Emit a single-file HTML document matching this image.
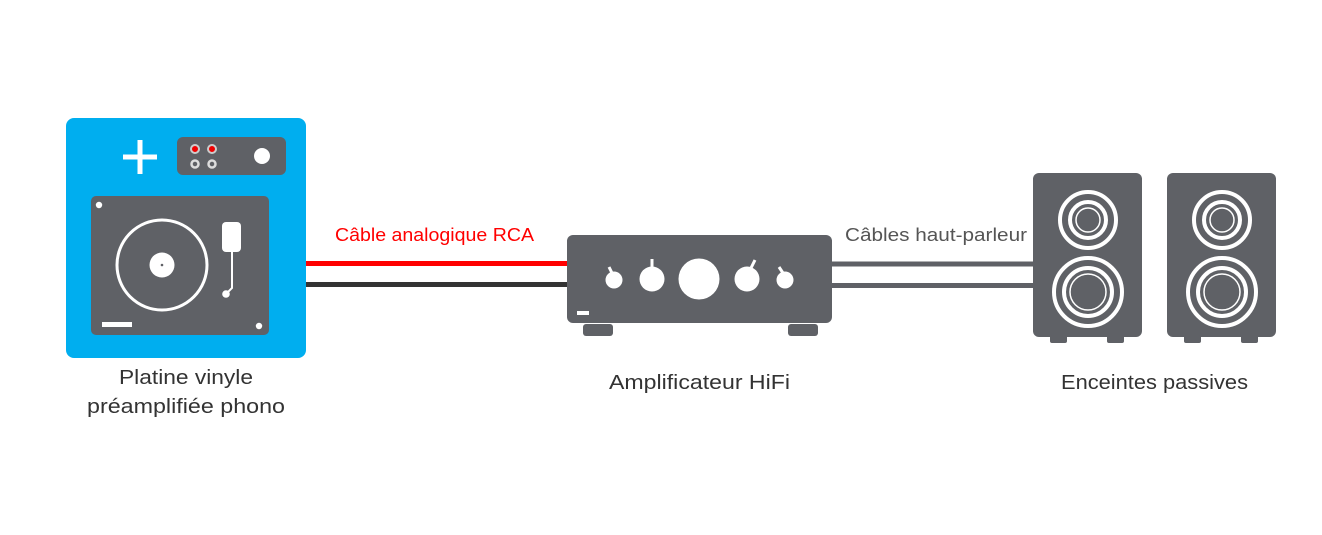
<!DOCTYPE html>
<html><head><meta charset="utf-8"><style>
html,body{margin:0;padding:0;background:#fff;}
svg{display:block;}
text{font-family:"Liberation Sans",sans-serif;}
</style></head><body>
<svg width="1322" height="535" viewBox="0 0 1322 535" xmlns="http://www.w3.org/2000/svg">
<rect width="1322" height="535" fill="#fff"/>
<!-- turntable -->
<rect x="66" y="118" width="240" height="240" rx="8" fill="#00aeef"/>
<rect x="123" y="154.5" width="34" height="5" fill="#fff"/>
<rect x="137.5" y="140" width="5" height="34" fill="#fff"/>
<rect x="177" y="137" width="109" height="38" rx="6" fill="#5f6166"/>
<circle cx="195" cy="149" r="4" fill="#e00" stroke="#ccc" stroke-width="2"/>
<circle cx="212" cy="149" r="4" fill="#e00" stroke="#ccc" stroke-width="2"/>
<circle cx="195" cy="164" r="3.5" fill="#5f6166" stroke="#ddd" stroke-width="2.5"/>
<circle cx="212" cy="164" r="3.5" fill="#5f6166" stroke="#ddd" stroke-width="2.5"/>
<circle cx="262" cy="156" r="8" fill="#fff"/>
<rect x="91" y="196" width="178" height="139" rx="5" fill="#5f6166"/>
<circle cx="99" cy="205" r="3.2" fill="#fff"/>
<circle cx="259" cy="326" r="3.2" fill="#fff"/>
<circle cx="162" cy="265" r="45" fill="none" stroke="#fff" stroke-width="3"/>
<circle cx="162" cy="265" r="12.5" fill="#fff"/>
<circle cx="162" cy="265" r="1.3" fill="#5f6166"/>
<rect x="222" y="222" width="19" height="30" rx="4" fill="#fff"/>
<path d="M232 252 V288 L226 294" fill="none" stroke="#fff" stroke-width="2"/>
<circle cx="226" cy="294" r="3.8" fill="#fff"/>
<rect x="102" y="322" width="30" height="5" fill="#fff"/>
<!-- cables -->
<rect x="306" y="261" width="261" height="5" fill="#f00"/>
<rect x="306" y="282" width="261" height="5" fill="#333"/>
<rect x="832" y="261.5" width="201" height="5" fill="#5f6166"/>
<rect x="832" y="283" width="201" height="5" fill="#5f6166"/>
<text x="335" y="241" font-size="18" fill="#f00" textLength="199" lengthAdjust="spacingAndGlyphs">Câble analogique RCA</text>
<text x="845" y="241" font-size="18" fill="#555" textLength="182" lengthAdjust="spacingAndGlyphs">Câbles haut-parleur</text>
<!-- amp -->
<rect x="567" y="235" width="265" height="88" rx="6" fill="#5f6166"/>
<rect x="583" y="324" width="30" height="12" rx="3" fill="#5f6166"/>
<rect x="788" y="324" width="30" height="12" rx="3" fill="#5f6166"/>
<rect x="577" y="311" width="12" height="4" fill="#fff"/>
<circle cx="614" cy="280" r="8.5" fill="#fff"/>
<line x1="609" y1="267" x2="612" y2="273" stroke="#fff" stroke-width="3"/>
<circle cx="652" cy="279" r="12.5" fill="#fff"/>
<line x1="652" y1="259" x2="652" y2="268" stroke="#fff" stroke-width="3"/>
<circle cx="699" cy="279" r="20.5" fill="#fff"/>
<circle cx="747" cy="279" r="12.5" fill="#fff"/>
<line x1="755" y1="260" x2="751" y2="268" stroke="#fff" stroke-width="3"/>
<circle cx="785" cy="280" r="8.5" fill="#fff"/>
<line x1="779" y1="267" x2="783" y2="273" stroke="#fff" stroke-width="3"/>
<!-- speakers -->
<g id="spk">
<rect x="1033" y="173" width="109" height="164" rx="6" fill="#5f6166"/>
<rect x="1050" y="335" width="17" height="8" rx="2" fill="#5f6166"/>
<rect x="1107" y="335" width="17" height="8" rx="2" fill="#5f6166"/>
<circle cx="1088" cy="220" r="28" fill="none" stroke="#fff" stroke-width="4"/>
<circle cx="1088" cy="220" r="18" fill="none" stroke="#fff" stroke-width="4"/>
<circle cx="1088" cy="220" r="12" fill="none" stroke="#fff" stroke-width="1.5"/>
<circle cx="1088" cy="292" r="34" fill="none" stroke="#fff" stroke-width="4"/>
<circle cx="1088" cy="292" r="24" fill="none" stroke="#fff" stroke-width="4"/>
<circle cx="1088" cy="292" r="18" fill="none" stroke="#fff" stroke-width="1.5"/>
</g>
<use href="#spk" x="134"/>
<!-- labels -->
<g font-size="20" fill="#333">
<text x="119" y="384" textLength="134" lengthAdjust="spacingAndGlyphs">Platine vinyle</text>
<text x="87" y="413" textLength="198" lengthAdjust="spacingAndGlyphs">préamplifiée phono</text>
<text x="609" y="389" textLength="181" lengthAdjust="spacingAndGlyphs">Amplificateur HiFi</text>
<text x="1061" y="389" textLength="187" lengthAdjust="spacingAndGlyphs">Enceintes passives</text>
</g>
</svg>
</body></html>
